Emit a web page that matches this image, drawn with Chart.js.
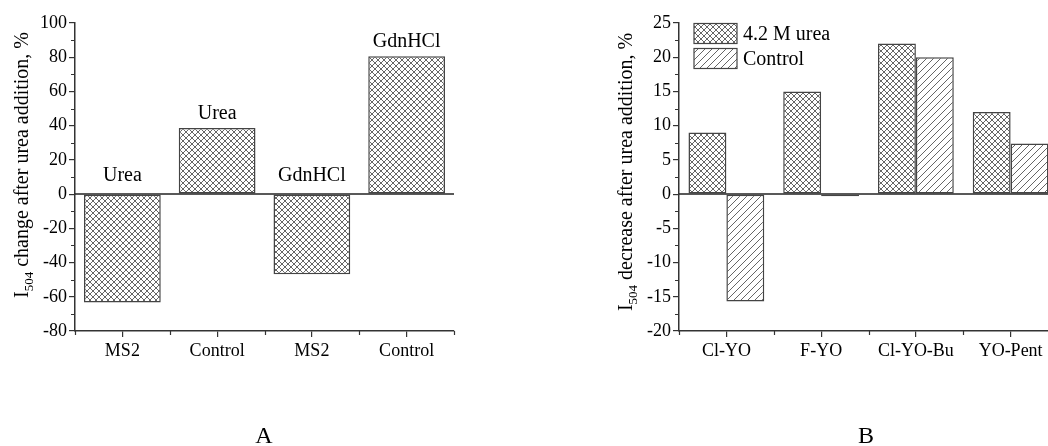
<!DOCTYPE html>
<html lang="en">
<head>
    <meta charset="UTF-8">
    <title>I504 change after urea addition</title>
    <script src="https://cdn.jsdelivr.net/npm/chart.js"></script>
    <style>
        html, body {
            margin: 0;
            padding: 0;
            background: #fff;
            width: 1048px;
            height: 446px;
            overflow: hidden;
        }
        body {
            position: relative;
            font-family: "Liberation Serif", "Times New Roman", serif;
        }
        canvas {
            position: absolute;
            top: 0;
        }
        #chartA { left: 0; }
        #chartB { left: 530px; }
        .panel-label {
            position: absolute;
            top: 423px;
            width: 60px;
            margin-left: -30px;
            text-align: center;
            font-size: 24px;
            line-height: 24px;
            color: #000;
        }
    </style>
</head>
<body>
    <canvas id="chartA" width="530" height="446"></canvas>
    <canvas id="chartB" width="560" height="446"></canvas>
    <div class="panel-label" style="left: 264px;">A</div>
    <div class="panel-label" style="left: 866px;">B</div>

    <script>
        // panel A
        const catsA = ["MS2", "Control", "MS2", "Control"];
        const valsA = [-63.4, 38.7, -46.9, 80.6];
        const notesA = ["Urea", "Urea", "GdnHCl", "GdnHCl"];
        const yMinA = -80, yMaxA = 100, yStepA = 20;

        // panel B
        const catsB = ["Cl-YO", "F-YO", "Cl-YO-Bu", "YO-Pent"];
        const seriesB = ["4.2 M urea", "Control"];
        const ureaB = [9, 15, 22, 12];
        const controlB = [-15.7, -0.3, 20, 7.4];
        const yMinB = -20, yMaxB = 25, yStepB = 5;

        const FONT = '"Liberation Serif", "Times New Roman", serif';
        const INK = "#333";

        function makeCrossHatch() {
            const c = document.createElement("canvas");
            c.width = 6; c.height = 6;
            const g = c.getContext("2d");
            g.fillStyle = "#fff";
            g.fillRect(0, 0, 6, 6);
            g.strokeStyle = "#555";
            g.lineWidth = 0.9;
            g.beginPath();
            g.moveTo(-1, -1); g.lineTo(7, 7);
            g.moveTo(7, -1); g.lineTo(-1, 7);
            g.stroke();
            return g.createPattern(c, "repeat");
        }

        function makeDiagHatch() {
            const c = document.createElement("canvas");
            c.width = 7; c.height = 7;
            const g = c.getContext("2d");
            g.fillStyle = "#fff";
            g.fillRect(0, 0, 7, 7);
            g.strokeStyle = "#555";
            g.lineWidth = 0.9;
            g.beginPath();
            g.moveTo(-1, 8); g.lineTo(8, -1);
            g.moveTo(-1, 1); g.lineTo(1, -1);
            g.moveTo(6, 8); g.lineTo(8, 6);
            g.stroke();
            return g.createPattern(c, "repeat");
        }

        const crossHatch = makeCrossHatch();
        const diagHatch = makeDiagHatch();

        // minor ticks, zero line and the rotated y title with subscript
        function axisExtras(title, titleOffset, yStep) {
            return {
                id: "axisExtras",
                afterDraw(chart) {
                    const { ctx, chartArea: a, scales: { x, y } } = chart;
                    ctx.save();
                    ctx.strokeStyle = INK;
                    ctx.lineWidth = 1.2;
                    ctx.beginPath();
                    for (let v = y.min + yStep / 2; v < y.max; v += yStep) {
                        const py = Math.round(y.getPixelForValue(v)) + 0.5;
                        ctx.moveTo(a.left - 4, py);
                        ctx.lineTo(a.left, py);
                    }
                    const n = x.ticks.length;
                    for (let i = 0; i <= n; i++) {
                        let px;
                        if (i === 0) px = a.left;
                        else if (i === n) px = a.right;
                        else px = (x.getPixelForValue(i - 1) + x.getPixelForValue(i)) / 2;
                        px = Math.round(px) + 0.5;
                        ctx.moveTo(px, a.bottom);
                        ctx.lineTo(px, a.bottom + 4);
                    }
                    ctx.stroke();

                    // zero line
                    ctx.lineWidth = 1.5;
                    ctx.strokeStyle = "#222";
                    ctx.beginPath();
                    const y0 = y.getPixelForValue(0);
                    ctx.moveTo(a.left, y0);
                    ctx.lineTo(a.right, y0);
                    ctx.stroke();

                    // y title
                    ctx.translate(a.left - 47, a.top + titleOffset);
                    ctx.rotate(-Math.PI / 2);
                    ctx.fillStyle = "#000";
                    ctx.textBaseline = "alphabetic";
                    ctx.font = "20px " + FONT;
                    const wI = ctx.measureText("I").width;
                    const wRest = ctx.measureText(title).width;
                    ctx.font = "13px " + FONT;
                    const wSub = ctx.measureText("504").width;
                    let tx = -(wI + wSub + wRest) / 2;
                    ctx.font = "20px " + FONT;
                    ctx.fillText("I", tx, 0);
                    tx += wI;
                    ctx.font = "13px " + FONT;
                    ctx.fillText("504", tx, 5);
                    tx += wSub;
                    ctx.font = "20px " + FONT;
                    ctx.fillText(title, tx, 0);
                    ctx.restore();
                }
            };
        }

        const notesPlugin = {
            id: "notes",
            afterDatasetsDraw(chart) {
                const { ctx, scales: { y } } = chart;
                const meta = chart.getDatasetMeta(0);
                ctx.save();
                ctx.font = "20px " + FONT;
                ctx.fillStyle = "#000";
                ctx.textAlign = "center";
                ctx.textBaseline = "middle";
                meta.data.forEach((bar, i) => {
                    const ty = valsA[i] >= 0 ? bar.y - 14 : y.getPixelForValue(0) - 18;
                    ctx.fillText(notesA[i], bar.x, ty);
                });
                ctx.restore();
            }
        };

        const legendPlugin = {
            id: "hatchLegend",
            afterDraw(chart) {
                const { ctx, chartArea: a } = chart;
                ctx.save();
                ctx.font = "20px " + FONT;
                ctx.textBaseline = "middle";
                chart.data.datasets.forEach((ds, i) => {
                    const bx = a.left + 15, by = a.top + 0.5 + i * 25;
                    ctx.fillStyle = ds.backgroundColor;
                    ctx.fillRect(bx, by, 43, 20);
                    ctx.strokeStyle = "#444";
                    ctx.lineWidth = 1.2;
                    ctx.strokeRect(bx, by, 43, 20);
                    ctx.fillStyle = "#000";
                    ctx.fillText(ds.label, a.left + 64, by + 11);
                });
                ctx.restore();
            }
        };

        function axisOptions(yMin, yMax, yStep, yWidth) {
            return {
                x: {
                    offset: true,
                    grid: {
                        display: true,
                        offset: false,
                        drawOnChartArea: false,
                        tickLength: 6,
                        color: INK,
                        lineWidth: 1.2
                    },
                    border: { display: true, color: INK, width: 1.5 },
                    ticks: {
                        color: "#000",
                        padding: 3,
                        font: { family: FONT, size: 18 }
                    },
                    afterFit(scale) { scale.height = 446 - 331; }
                },
                y: {
                    min: yMin,
                    max: yMax,
                    grid: {
                        display: true,
                        drawOnChartArea: false,
                        tickLength: 6,
                        color: INK,
                        lineWidth: 1.2
                    },
                    border: { display: true, color: INK, width: 1.5 },
                    ticks: {
                        stepSize: yStep,
                        color: "#000",
                        padding: 2,
                        font: { family: FONT, size: 18 }
                    },
                    afterFit(scale) { scale.width = yWidth; }
                }
            };
        }

        new Chart(document.getElementById("chartA").getContext("2d"), {
            type: "bar",
            data: {
                labels: catsA,
                datasets: [{
                    label: "I504 change",
                    data: valsA,
                    backgroundColor: crossHatch,
                    borderColor: "#444",
                    borderWidth: 1.5,
                    borderSkipped: false,
                    categoryPercentage: 0.81,
                    barPercentage: 1.0
                }]
            },
            options: {
                responsive: false,
                animation: false,
                layout: { padding: { top: 23, right: 76, left: 0, bottom: 0 } },
                plugins: { legend: { display: false }, tooltip: { enabled: false } },
                scales: axisOptions(yMinA, yMaxA, yStepA, 75)
            },
            plugins: [axisExtras(" change after urea addition, %", 142, yStepA), notesPlugin]
        });

        new Chart(document.getElementById("chartB").getContext("2d"), {
            type: "bar",
            data: {
                labels: catsB,
                datasets: [
                    {
                        label: seriesB[0],
                        data: ureaB,
                        backgroundColor: crossHatch,
                        borderColor: "#444",
                        borderWidth: 1.5,
                        borderSkipped: false,
                        categoryPercentage: 0.8,
                        barPercentage: 1.0
                    },
                    {
                        label: seriesB[1],
                        data: controlB,
                        backgroundColor: diagHatch,
                        borderColor: "#444",
                        borderWidth: 1.5,
                        borderSkipped: false,
                        categoryPercentage: 0.8,
                        barPercentage: 1.0
                    }
                ]
            },
            options: {
                responsive: false,
                animation: false,
                layout: { padding: { top: 23, right: 32, left: 0, bottom: 0 } },
                plugins: { legend: { display: false }, tooltip: { enabled: false } },
                scales: axisOptions(yMinB, yMaxB, yStepB, 149)
            },
            plugins: [axisExtras(" decrease after urea addition, %", 149, yStepB), legendPlugin]
        });
    </script>
</body>
</html>
